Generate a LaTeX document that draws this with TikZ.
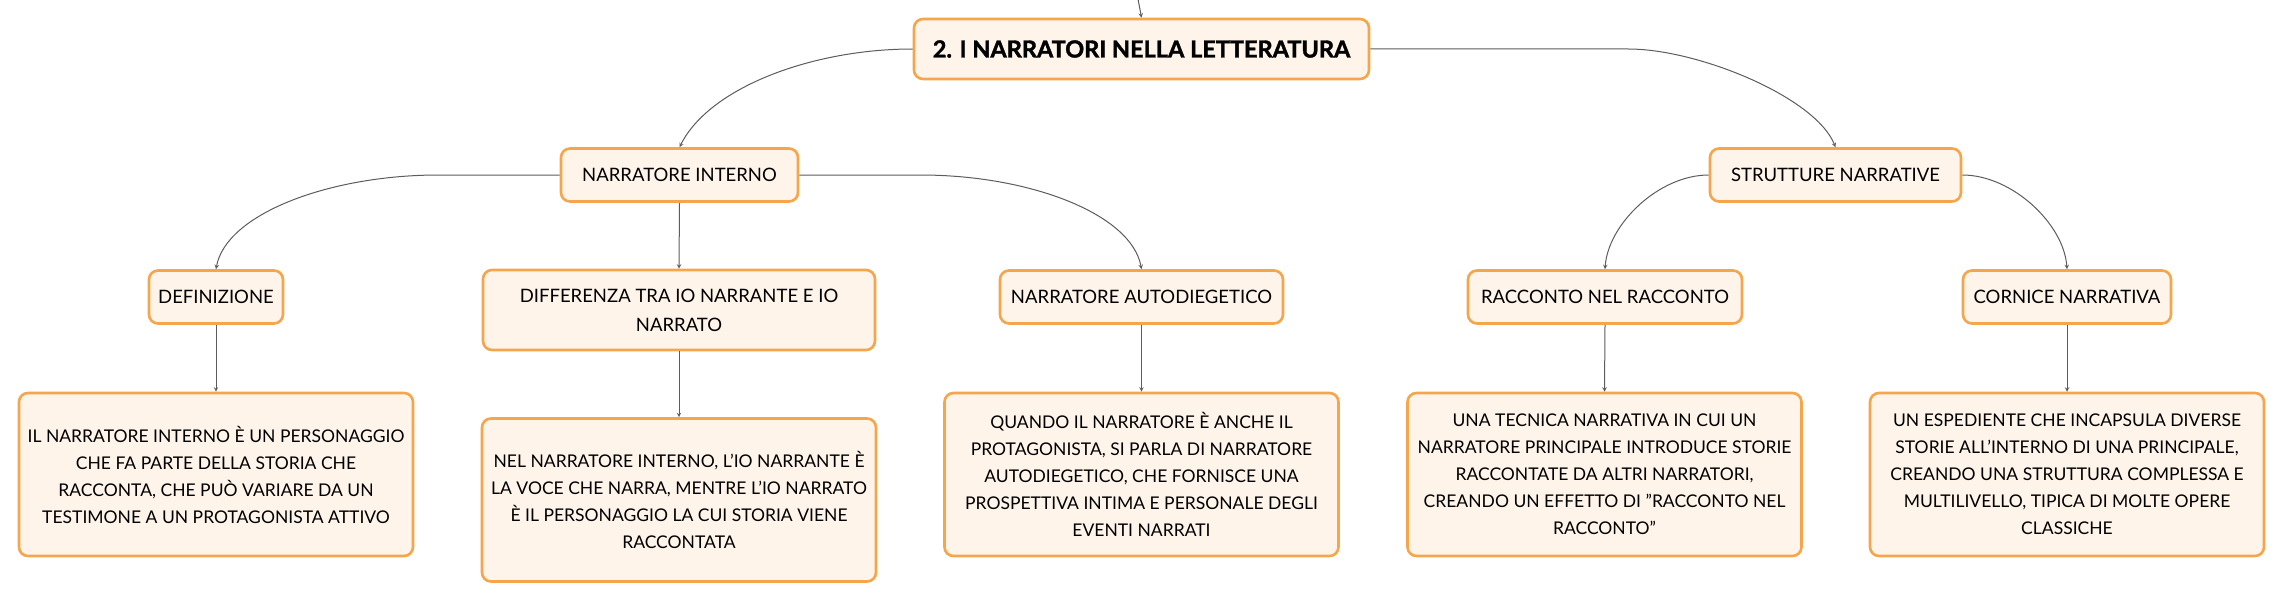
\documentclass[tikz,border=0pt]{standalone}
\usepackage{fontspec}
\setmainfont{Lato}
\newfontfamily\titlefont[BoldFeatures={FakeBold=1.6}]{Lato}
\definecolor{boxline}{HTML}{F5A54C}
\definecolor{boxfill}{HTML}{FEF4EA}
\definecolor{linkgray}{HTML}{5C5C5C}
\begin{document}
\begin{tikzpicture}[>=stealth,x=1pt,y=-1pt,
    box/.style={draw=boxline,fill=boxfill,line width=2.6pt,rounded corners=9pt,align=center,text=black},
    root/.style={box,font=\titlefont\fontsize{23.5}{27}\selectfont\bfseries,minimum width=455pt,minimum height=60pt},
    topic/.style={box,font=\fontsize{18.5}{29}\selectfont,minimum height=53pt},
    leaf/.style={box,font=\fontsize{17.5}{27}\selectfont,minimum width=394pt,minimum height=163pt},
    link/.style={->,draw=linkgray,line width=1pt}]
\useasboundingbox (0,0) rectangle (2284,602);
% root and main branches
\coordinate (top) at (1138,-1);
\node[root] (title) at (1141.5,49) {2. I NARRATORI NELLA LETTERATURA};
\node[topic,minimum width=237pt] (interno) at (679.5,175) {NARRATORE INTERNO};
\node[topic,minimum width=251pt] (strutture) at (1835.5,175) {STRUTTURE NARRATIVE};
% second level
\node[topic,minimum width=134pt] (def) at (216,297) {DEFINIZIONE};
\node[topic,minimum width=392pt,minimum height=80pt] (diff) at (679,310) {DIFFERENZA TRA IO NARRANTE E IO\\NARRATO};
\node[topic,minimum width=283pt] (auto) at (1141.5,297) {NARRATORE AUTODIEGETICO};
\node[topic,minimum width=274pt] (racc) at (1605,297) {RACCONTO NEL RACCONTO};
\node[topic,minimum width=208pt] (cornice) at (2067,297) {CORNICE NARRATIVA};
% leaves
\node[leaf] (deftxt) at (216,474.5) {IL NARRATORE INTERNO È UN PERSONAGGIO\\CHE FA PARTE DELLA STORIA CHE\\RACCONTA, CHE PUÒ VARIARE DA UN\\TESTIMONE A UN PROTAGONISTA ATTIVO};
\node[leaf] (difftxt) at (679,500) {NEL NARRATORE INTERNO, L'IO NARRANTE È\\LA VOCE CHE NARRA, MENTRE L'IO NARRATO\\È IL PERSONAGGIO LA CUI STORIA VIENE\\RACCONTATA};
\node[leaf] (autotxt) at (1141.5,474.5) {QUANDO IL NARRATORE È ANCHE IL\\PROTAGONISTA, SI PARLA DI NARRATORE\\AUTODIEGETICO, CHE FORNISCE UNA\\PROSPETTIVA INTIMA E PERSONALE DEGLI\\EVENTI NARRATI};
\node[leaf] (racctxt) at (1604.5,474.5) {UNA TECNICA NARRATIVA IN CUI UN\\NARRATORE PRINCIPALE INTRODUCE STORIE\\RACCONTATE DA ALTRI NARRATORI,\\CREANDO UN EFFETTO DI "RACCONTO NEL\\RACCONTO"};
\node[leaf] (cornicetxt) at (2067,474.5) {UN ESPEDIENTE CHE INCAPSULA DIVERSE\\STORIE ALL'INTERNO DI UNA PRINCIPALE,\\CREANDO UNA STRUTTURA COMPLESSA E\\MULTILIVELLO, TIPICA DI MOLTE OPERE\\CLASSICHE};
% connectors
\draw[link] (top) -- (title.north);
\draw[link] (title.west) .. controls +(-100,0) and +(30,-60) .. (interno.north);
\draw[link] (title.east) -- +(258,0) .. controls +(70,0) and +(-20,-50) .. (strutture.north);
\draw[link] (interno.west) -- +(-121,0) .. controls +(-110,0) and +(10,-55) .. (def.north);
\draw[link] (interno.south) -- (diff.north);
\draw[link] (interno.east) -- +(121,0) .. controls +(110,0) and +(-10,-55) .. (auto.north);
\draw[link] (strutture.west) .. controls +(-50,0) and +(3,-45) .. (racc.north);
\draw[link] (strutture.east) .. controls +(50,0) and +(-3,-45) .. (cornice.north);
\draw[link] (def.south) -- (deftxt.north);
\draw[link] (diff.south) -- (difftxt.north);
\draw[link] (auto.south) -- (autotxt.north);
\draw[link] (racc.south) -- (racctxt.north);
\draw[link] (cornice.south) -- (cornicetxt.north);
\end{tikzpicture}
\end{document}
